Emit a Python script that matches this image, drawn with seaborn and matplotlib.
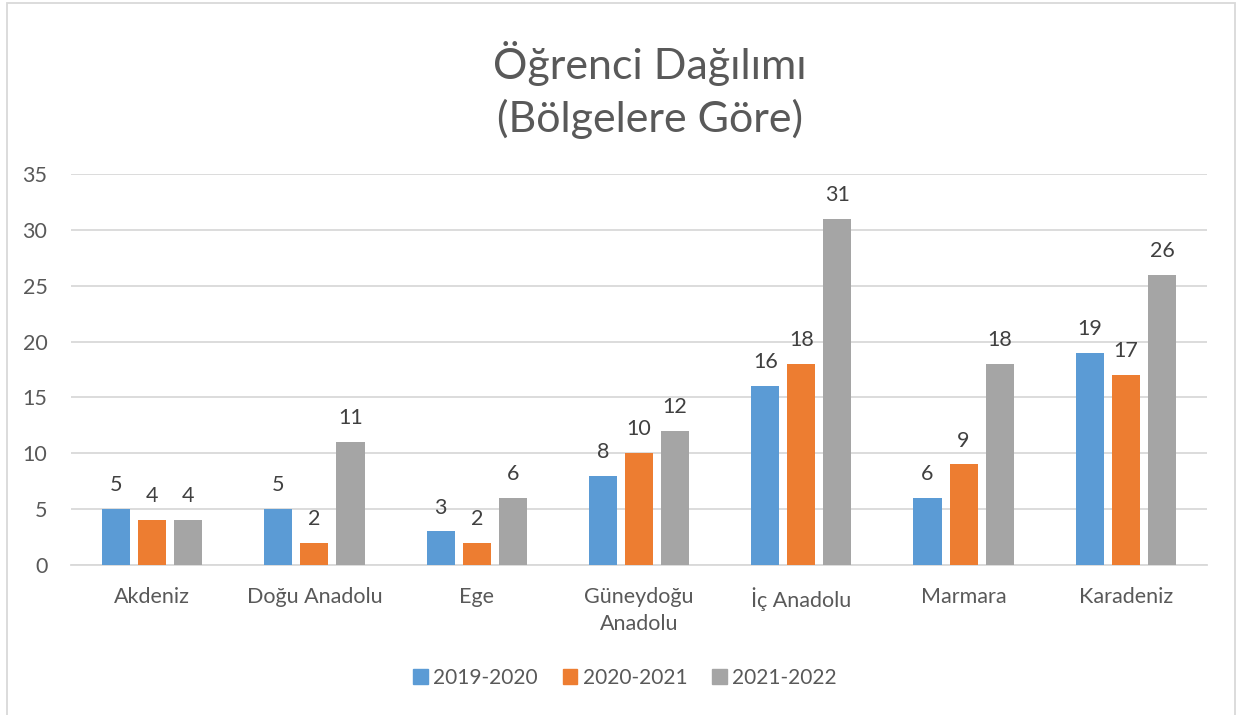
import matplotlib
matplotlib.use("Agg")
import matplotlib.pyplot as plt
import seaborn as sns
import pandas as pd
from matplotlib.patches import Rectangle

regions = ["Akdeniz", "Doğu Anadolu", "Ege", "Güneydoğu\nAnadolu", "İç Anadolu", "Marmara", "Karadeniz"]
years = ["2019-2020", "2020-2021", "2021-2022"]
v2019 = [5, 5, 3, 8, 16, 6, 19]
v2020 = [4, 2, 2, 10, 18, 9, 17]
v2021 = [4, 11, 6, 12, 31, 18, 26]
colors = ["#5B9BD5", "#ED7D31", "#A5A5A5"]
yticks = [0, 5, 10, 15, 20, 25, 30, 35]

rows = []
for yr, vals in zip(years, [v2019, v2020, v2021]):
    for r, v in zip(regions, vals):
        rows.append({"Bölge": r, "Yıl": yr, "Değer": v})
df = pd.DataFrame(rows)

sns.set_theme(style="white")
plt.rcParams["font.family"] = ["Lato", "DejaVu Sans"]
txt = "#595959"
fs = 15.5

fig = plt.figure(figsize=(12.37, 7.15), dpi=100)
ax = fig.add_axes([71/1237, 1-565/715, (1207-71)/1237, (565-174)/715])

sns.barplot(data=df, x="Bölge", y="Değer", hue="Yıl", palette=colors,
            saturation=1, width=0.666, gap=0.22, ax=ax, legend=False,
            zorder=3, linewidth=0)

ax.set_ylim(0, 35)
ax.set_yticks(yticks)
ax.set_xlim(-0.5, len(regions) - 0.5)
ax.yaxis.grid(True, color="#D9D9D9", linewidth=1.3, zorder=0)
ax.set_axisbelow(True)
for s in ["top", "right", "left"]:
    ax.spines[s].set_visible(False)
ax.spines["bottom"].set_color("#D9D9D9")
ax.spines["bottom"].set_linewidth(1.3)
ax.tick_params(axis="both", length=0, labelsize=fs, colors=txt)
ax.tick_params(axis="y", pad=17)
ax.tick_params(axis="x", pad=16)
ax.set_xlabel("")
ax.set_ylabel("")
for lab in ax.get_xticklabels():
    lab.set_linespacing(1.45)

for cont in ax.containers:
    ax.bar_label(cont, padding=10, fontsize=fs, color="#404040")

fig.text(650/1237, 1-63/715, "Öğrenci Dağılımı", ha="center", va="center",
         fontsize=31, color=txt)
fig.text(650/1237, 1-119/715, "(Bölgelere Göre)", ha="center", va="center",
         fontsize=31, color=txt)

handles = [Rectangle((0, 0), 1, 1, color=c) for c in colors]
fig.legend(handles, years, loc="center", bbox_to_anchor=(625/1237, 1-678/715),
           ncol=3, frameon=False, fontsize=15, labelcolor=txt,
           handlelength=0.7, handleheight=0.7, handletextpad=0.25, columnspacing=1.2)

fig.patches.append(Rectangle((7/1237, -0.01), (1235-7)/1237, 1-3/715+0.01,
                             transform=fig.transFigure, fill=False,
                             edgecolor="#D9D9D9", linewidth=1.3))

fig.savefig("out.png", dpi=100)
